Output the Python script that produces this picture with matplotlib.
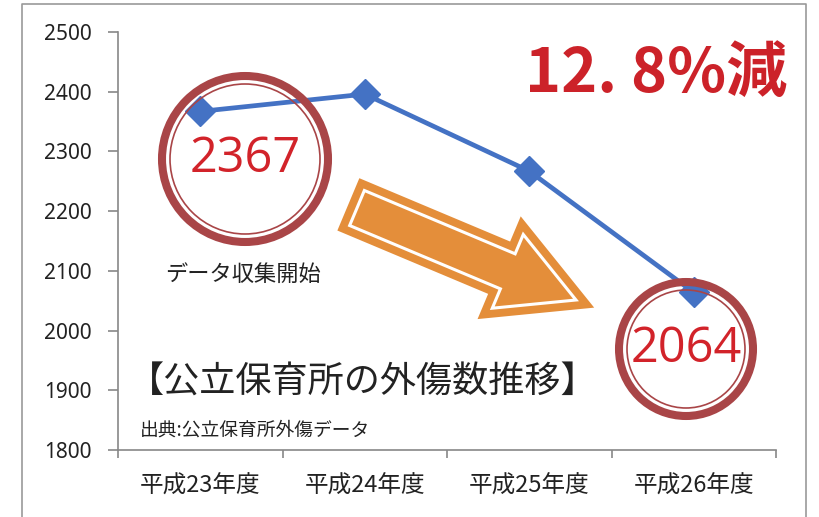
import matplotlib
matplotlib.use('Agg')
import matplotlib.pyplot as plt
from matplotlib.patches import Circle, FancyArrow
from matplotlib import patheffects

years = ['平成23年度', '平成24年度', '平成25年度', '平成26年度']
counts = [2367, 2396, 2267, 2064]
yticks = [1800, 1900, 2000, 2100, 2200, 2300, 2400, 2500]

title = '【公立保育所の外傷数推移】'
source = '出典:公立保育所外傷データ'
start_note = 'データ収集開始'
drop_text = '12. 8%減'

line_c = '#4472c4'
ring_c = '#a94547'
red_c = '#d2232a'
orange_c = '#e48e3a'

plt.rcParams['font.family'] = ['Noto Sans CJK JP', 'DejaVu Sans']

fig = plt.figure(figsize=(8.19, 5.17), dpi=100)
W, H = 819, 517

# main chart area
ax = fig.add_axes([118 / W, 1 - 450 / H, (776 - 118) / W, (450 - 32) / H])
x = list(range(len(years)))
ax.plot(x, counts, color=line_c, lw=3.4, marker='D', ms=15, zorder=3)
ax.set_xlim(-0.5, len(years) - 0.5)
ax.set_ylim(yticks[0], yticks[-1])
ax.set_yticks(yticks)
ax.set_xticks(x)
ax.set_xticklabels(years, fontsize=17, color='#222')
ax.set_xticks([i - 0.5 for i in range(len(years) + 1)], minor=True)
ax.tick_params(axis='x', which='major', length=0, pad=18)
ax.tick_params(axis='x', which='minor', length=6, color='#888', width=1.2)
ax.tick_params(axis='y', length=7, pad=12, labelsize=15, color='#888', width=1.2, labelcolor='#222')
for lbl in ax.get_yticklabels():
    lbl.set_fontfamily('Noto Sans')
for s in ['top', 'right']:
    ax.spines[s].set_visible(False)
for s in ['left', 'bottom']:
    ax.spines[s].set_color('#888')
    ax.spines[s].set_linewidth(1.2)

# overlay in pixel coords for the decorations
ov = fig.add_axes([0, 0, 1, 1], zorder=5)
ov.set_xlim(0, W)
ov.set_ylim(H, 0)
ov.axis('off')
ov.patch.set_alpha(0)

# outer frame
ov.plot([22, 22, 806, 806], [H + 5, 4, 4, H + 5], color='#999', lw=1.2, clip_on=False)


def ring(cx, cy, r, label):
    ov.add_patch(Circle((cx, cy), r - 4, fill=False, ec=ring_c, lw=5.8))
    ov.add_patch(Circle((cx, cy), r - 12, fill=False, ec=ring_c, lw=1.2))
    ov.text(cx, cy, label, color=red_c, fontsize=35, family='Open Sans',
            ha='center', va='center')


ring(245, 159, 87, str(counts[0]))
ring(686, 349, 71, str(counts[-1]))

arr = FancyArrow(357, 208, 219, 92, width=38, head_width=80, head_length=74,
                 length_includes_head=True, fc=orange_c, ec='white', lw=2.2,
                 joinstyle='miter')
arr.set_path_effects([patheffects.Stroke(linewidth=13.5, foreground=orange_c, joinstyle='miter'),
                      patheffects.Normal()])
ov.add_patch(arr)

ov.text(165, 274, start_note, fontsize=16, color='#222', ha='left', va='center')
ov.text(128, 383, title, fontsize=26, color='#222', ha='left', va='center')
ov.text(140, 430, source, fontsize=13.5, color='#222', ha='left', va='center')
ov.text(787, 74, drop_text, fontsize=44, color='#cc2229', fontweight='bold',
        ha='right', va='center')

fig.savefig('out.png', dpi=100)
